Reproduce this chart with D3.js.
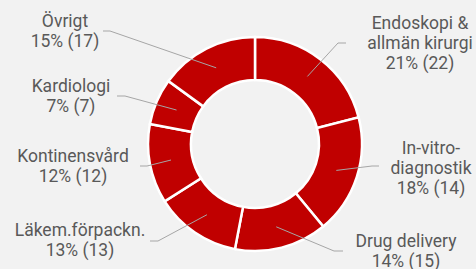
<!DOCTYPE html>
<html lang="sv">
<head>
<meta charset="UTF-8">
<title>Segment donut</title>
<script src="https://d3js.org/d3.v7.min.js"></script>
<style>
  body { margin: 0; background: #f2f2f2; }
  svg { display: block; }
  text { font-family: Roboto, "Noto Sans", sans-serif; fill: #595959; }
</style>
</head>
<body>
<div id="chart"></div>
<script>
// data
const categories = ["Endoskopi &\nallmän kirurgi", "In-vitro-\ndiagnostik", "Drug delivery",
                    "Läkem.förpackn.", "Kontinensvård", "Kardiologi", "Övrigt"];
const shares = [21, 18, 14, 13, 12, 7, 15];   // % of total
const counts = [22, 14, 15, 13, 12, 7, 17];   // value in brackets

// label placement: text centre x, first baseline, leader elbow and end
const labelLayout = [
  { x: 420, y: 29,  elbow: [338, 43],  end: [346, 43] },
  { x: 431, y: 154, elbow: [372, 166], end: [379, 166] },
  { x: 406, y: 247, elbow: [334, 251], end: [343, 251] },
  { x: 80,  y: 236, elbow: [158, 241], end: [150, 241] },
  { x: 73,  y: 162, elbow: [147, 166], end: [140, 166] },
  { x: 71,  y: 92,  elbow: [125, 96],  end: [117, 96] },
  { x: 65,  y: 27,  elbow: [110, 31],  end: [103, 31] }
];

const width = 476, height = 269;
const cx = 255, cy = 144;
const outerR = 107, innerR = 64;
const lineH = 20;

const svg = d3.select("#chart").append("svg")
  .attr("width", width)
  .attr("height", height);

const data = categories.map((c, i) => ({ name: c, share: shares[i], count: counts[i] }));

const pie = d3.pie().sort(null).value(d => d.share);
const arcs = pie(data);

const arc = d3.arc().innerRadius(innerR).outerRadius(outerR);
const midArc = d3.arc().innerRadius((innerR + outerR) / 2).outerRadius((innerR + outerR) / 2);

const g = svg.append("g").attr("transform", `translate(${cx},${cy})`);

g.selectAll("path.slice")
  .data(arcs)
  .enter()
  .append("path")
  .attr("class", "slice")
  .attr("d", arc)
  .attr("fill", "#c00000")
  .attr("stroke", "#ffffff")
  .attr("stroke-width", 2.5);

// leader lines
svg.selectAll("polyline.leader")
  .data(arcs)
  .enter()
  .append("polyline")
  .attr("class", "leader")
  .attr("points", (d, i) => {
    const c = midArc.centroid(d);
    const L = labelLayout[i];
    return [[c[0] + cx, c[1] + cy], L.elbow, L.end].map(p => p.join(",")).join(" ");
  })
  .attr("fill", "none")
  .attr("stroke", "#a6a6a6")
  .attr("stroke-width", 1);

// labels
arcs.forEach((d, i) => {
  const L = labelLayout[i];
  const lines = d.data.name.split("\n").concat([`${d.data.share}% (${d.data.count})`]);
  const t = svg.append("text")
    .attr("text-anchor", "middle")
    .style("font-size", "17.5px");
  lines.forEach((s, k) => {
    t.append("tspan")
      .attr("x", L.x)
      .attr("y", L.y + k * lineH)
      .text(s);
  });
});
</script>
</body>
</html>
